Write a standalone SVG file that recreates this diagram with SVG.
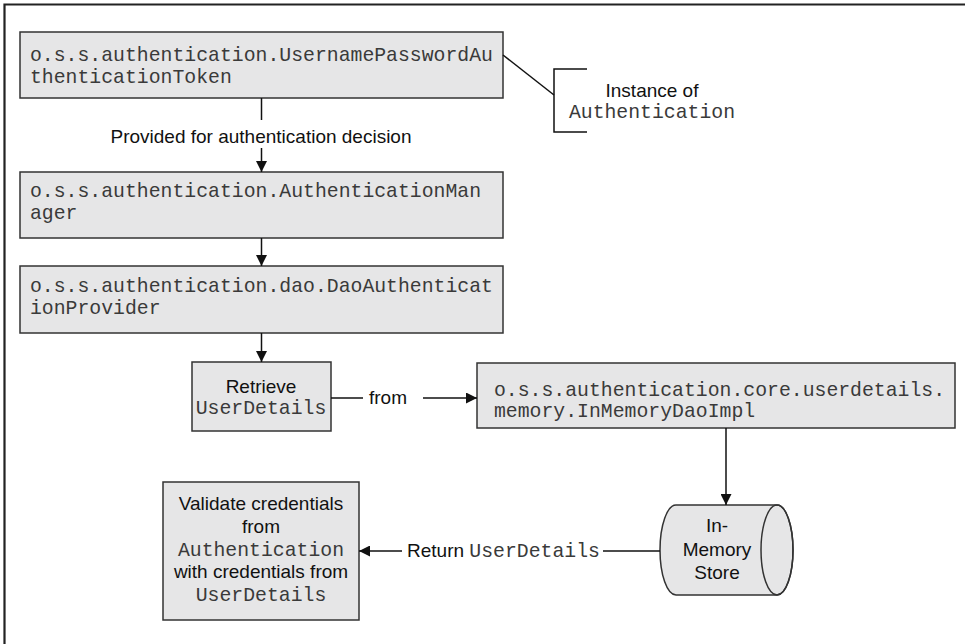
<svg xmlns="http://www.w3.org/2000/svg" width="965" height="644" viewBox="0 0 965 644">
<defs>
<marker id="arr" viewBox="0 0 10 10" refX="10" refY="5" markerWidth="11" markerHeight="11" markerUnits="userSpaceOnUse" orient="auto">
<path d="M0,0 L10,5 L0,10 z" fill="#111"/>
</marker>
<style>
.box{fill:#e6e6e7;stroke:#333;stroke-width:1.5}
.mono{font-family:"Liberation Mono","Courier New",monospace;font-size:19.8px;fill:#3a3a3a}
.sans{font-family:"Liberation Sans",Arial,sans-serif;font-size:19px;fill:#111}
.c{text-anchor:middle}
.ln{stroke:#111;stroke-width:1.5;fill:none}
</style>
</defs>
<rect width="965" height="644" fill="#fff"/>
<path d="M4.5,644 V4.5 H965" fill="none" stroke="#222" stroke-width="2.2"/>

<g id="token">
<rect class="box" x="20" y="32" width="483" height="66"/>
<text class="mono" x="30" y="61">o.s.s.authentication.UsernamePasswordAu</text>
<text class="mono" x="30" y="83">thenticationToken</text>
</g>

<g id="instance-note">
<path class="ln" d="M587,69 H554 V132 H587" stroke-width="1.3"/>
<text class="sans c" x="652" y="97">Instance of</text>
<text class="mono c" x="652" y="118">Authentication</text>
</g>

<g id="manager">
<rect class="box" x="20" y="172" width="483" height="66"/>
<text class="mono" x="30" y="197">o.s.s.authentication.AuthenticationMan</text>
<text class="mono" x="30" y="219">ager</text>
</g>

<g id="provider">
<rect class="box" x="20" y="266" width="483" height="67"/>
<text class="mono" x="30" y="292">o.s.s.authentication.dao.DaoAuthenticat</text>
<text class="mono" x="30" y="314">ionProvider</text>
</g>

<g id="retrieve">
<rect class="box" x="192" y="362" width="139" height="69"/>
<text class="sans c" x="261" y="393">Retrieve</text>
<text class="mono c" x="261" y="414">UserDetails</text>
</g>

<g id="inmemorydao">
<rect class="box" x="477" y="363" width="478" height="65"/>
<text class="mono" x="494" y="396">o.s.s.authentication.core.userdetails.</text>
<text class="mono" x="494" y="417">memory.InMemoryDaoImpl</text>
</g>

<g id="store">
<path class="box" d="M676,505 H777 A16,45 0 0 1 777,595 H676 A16,45 0 0 1 676,505 Z"/>
<ellipse cx="777" cy="550" rx="16" ry="45" fill="none" stroke="#333" stroke-width="1.5"/>
<text class="sans c" x="717" y="532">In-</text>
<text class="sans c" x="717" y="556">Memory</text>
<text class="sans c" x="717" y="579">Store</text>
</g>

<g id="validate">
<rect class="box" x="163" y="482" width="196" height="138"/>
<text class="sans c" x="261" y="510">Validate credentials</text>
<text class="sans c" x="261" y="533">from</text>
<text class="mono c" x="261" y="556">Authentication</text>
<text class="sans c" x="261" y="578">with credentials from</text>
<text class="mono c" x="261" y="601">UserDetails</text>
</g>

<g id="connectors">
<line class="ln" x1="261.5" y1="98" x2="261.5" y2="120"/>
<text class="sans c" x="261" y="143">Provided for authentication decision</text>
<line class="ln" x1="261.5" y1="148" x2="261.5" y2="172" marker-end="url(#arr)"/>
<line class="ln" x1="261.5" y1="238" x2="261.5" y2="266" marker-end="url(#arr)"/>
<line class="ln" x1="261.5" y1="333" x2="261.5" y2="362" marker-end="url(#arr)"/>
<line class="ln" x1="503" y1="55" x2="554" y2="95" stroke-width="1.2"/>
<line class="ln" x1="331" y1="398" x2="363" y2="398"/>
<text class="sans c" x="388" y="404">from</text>
<line class="ln" x1="423" y1="398" x2="477" y2="398" marker-end="url(#arr)"/>
<line class="ln" x1="726" y1="428" x2="726" y2="505" marker-end="url(#arr)"/>
<line class="ln" x1="660" y1="551" x2="603" y2="551"/>
<text x="407" y="557"><tspan class="sans">Return </tspan><tspan class="mono">UserDetails</tspan></text>
<line class="ln" x1="402" y1="551" x2="359" y2="551" marker-end="url(#arr)"/>
</g>
</svg>
